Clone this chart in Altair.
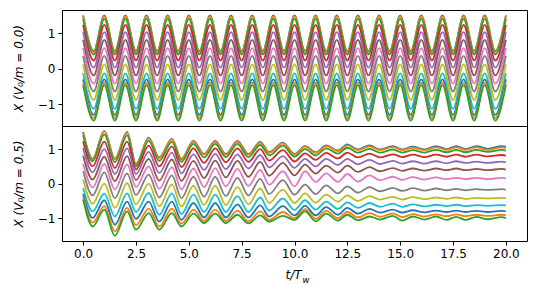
import altair as alt
import pandas as pd

# ---------------- data ----------------
curve_ids = [f"c{i:02d}" for i in range(13)]
tab10 = ["#1f77b4", "#ff7f0e", "#2ca02c", "#d62728", "#9467bd", "#8c564b",
         "#e377c2", "#7f7f7f", "#bcbd22", "#17becf", "#1f77b4", "#ff7f0e", "#2ca02c"]

# top panel (V0/m = 0.0): extrema every half period (peaks at integer t)
t_top = [0.0, 0.5, 1.0, 1.5, 2.0, 2.5, 3.0, 3.5, 4.0, 4.5, 5.0, 5.5, 6.0, 6.5,
         7.0, 7.5, 8.0, 8.5, 9.0, 9.5, 10.0, 10.5, 11.0, 11.5, 12.0, 12.5, 13.0,
         13.5, 14.0, 14.5, 15.0, 15.5, 16.0, 16.5, 17.0, 17.5, 18.0, 18.5, 19.0,
         19.5, 20.0]
top_peaks = [1.50, 1.47, 1.40, 1.23, 1.03, 0.81, 0.58, 0.36, 0.12, -0.13, -0.30, -0.39, -0.46]
top_troughs = [0.50, 0.47, 0.40, 0.23, 0.03, -0.19, -0.42, -0.64, -0.88, -1.13, -1.30, -1.39, -1.46]

# bottom panel (V0/m = 0.5): values of the 13 curves (top to bottom) at the extrema times
t_bot = [0.0, 0.45, 1.0, 1.5, 2.08, 2.5, 3.1, 3.6, 4.2, 4.65, 5.22, 5.72, 6.25, 6.75,
         7.3, 7.82, 8.38, 8.8, 9.45, 10.0, 10.5, 11.0, 11.5, 12.05, 12.5, 13.0, 13.55,
         14.05, 14.65, 15.1, 15.6, 16.15, 16.7, 17.2, 17.65, 18.1, 18.6, 19.15, 19.8, 20.0]
bot_rows = [
    [1.50, 1.47, 1.40, 1.23, 1.03, 0.81, 0.58, 0.36, 0.12, -0.13, -0.30, -0.39, -0.46],
    [0.72, 0.70, 0.65, 0.50, 0.33, 0.12, -0.11, -0.34, -0.58, -0.80, -0.99, -1.13, -1.24],
    [1.53, 1.52, 1.43, 1.22, 1.00, 0.78, 0.57, 0.33, 0.00, -0.29, -0.48, -0.65, -0.75],
    [0.72, 0.70, 0.62, 0.45, 0.28, 0.07, -0.17, -0.42, -0.70, -0.95, -1.19, -1.38, -1.51],
    [1.50, 1.48, 1.40, 1.22, 1.02, 0.80, 0.56, 0.30, 0.02, -0.28, -0.52, -0.70, -0.80],
    [0.57, 0.55, 0.50, 0.41, 0.28, 0.10, -0.10, -0.33, -0.60, -0.82, -1.02, -1.20, -1.33],
    [1.33, 1.31, 1.24, 1.10, 0.92, 0.72, 0.50, 0.26, 0.00, -0.27, -0.52, -0.72, -0.85],
    [0.76, 0.74, 0.66, 0.50, 0.31, 0.09, -0.15, -0.40, -0.66, -0.90, -1.10, -1.24, -1.33],
    [1.30, 1.28, 1.21, 1.08, 0.90, 0.70, 0.48, 0.24, -0.02, -0.28, -0.52, -0.72, -0.85],
    [0.72, 0.70, 0.63, 0.48, 0.30, 0.08, -0.16, -0.42, -0.66, -0.88, -1.05, -1.16, -1.24],
    [1.24, 1.22, 1.15, 1.02, 0.85, 0.66, 0.44, 0.20, -0.06, -0.32, -0.56, -0.75, -0.87],
    [0.86, 0.84, 0.76, 0.60, 0.40, 0.16, -0.10, -0.38, -0.62, -0.82, -0.98, -1.08, -1.14],
    [1.24, 1.22, 1.15, 1.02, 0.86, 0.67, 0.45, 0.20, -0.06, -0.32, -0.56, -0.75, -0.87],
    [0.86, 0.84, 0.77, 0.62, 0.42, 0.18, -0.08, -0.36, -0.62, -0.82, -0.98, -1.08, -1.14],
    [1.24, 1.22, 1.15, 1.02, 0.85, 0.66, 0.43, 0.17, -0.10, -0.36, -0.60, -0.78, -0.90],
    [0.86, 0.84, 0.77, 0.63, 0.44, 0.20, -0.06, -0.34, -0.60, -0.82, -0.98, -1.09, -1.15],
    [1.21, 1.19, 1.12, 1.00, 0.83, 0.63, 0.40, 0.14, -0.14, -0.40, -0.63, -0.80, -0.92],
    [0.91, 0.89, 0.82, 0.67, 0.47, 0.23, -0.03, -0.30, -0.56, -0.78, -0.95, -1.05, -1.10],
    [1.19, 1.17, 1.10, 0.97, 0.80, 0.60, 0.36, 0.10, -0.17, -0.43, -0.65, -0.82, -0.93],
    [0.86, 0.84, 0.78, 0.64, 0.46, 0.24, -0.08, -0.32, -0.56, -0.76, -0.92, -1.00, -1.05],
    [1.09, 1.07, 1.00, 0.88, 0.72, 0.55, 0.36, -0.03, -0.28, -0.48, -0.64, -0.74, -0.80],
    [0.91, 0.89, 0.82, 0.69, 0.50, 0.29, 0.05, -0.30, -0.55, -0.75, -0.92, -1.02, -1.09],
    [1.11, 1.09, 1.02, 0.89, 0.72, 0.52, 0.30, -0.05, -0.32, -0.52, -0.68, -0.79, -0.87],
    [0.96, 0.94, 0.87, 0.73, 0.54, 0.32, 0.05, -0.28, -0.52, -0.73, -0.90, -1.00, -1.07],
    [1.14, 1.11, 1.04, 0.90, 0.72, 0.52, 0.28, -0.08, -0.34, -0.54, -0.70, -0.82, -0.90],
    [0.99, 0.97, 0.90, 0.76, 0.56, 0.34, 0.06, -0.26, -0.50, -0.70, -0.87, -0.98, -1.06],
    [1.11, 1.08, 1.01, 0.87, 0.69, 0.48, 0.24, -0.10, -0.36, -0.56, -0.73, -0.85, -0.95],
    [0.99, 0.97, 0.90, 0.76, 0.57, 0.36, 0.10, -0.22, -0.46, -0.67, -0.84, -0.96, -1.04],
    [1.09, 1.06, 0.99, 0.85, 0.66, 0.45, 0.20, -0.12, -0.38, -0.58, -0.75, -0.86, -0.93],
    [0.99, 0.97, 0.90, 0.77, 0.58, 0.37, 0.11, -0.21, -0.46, -0.67, -0.84, -0.97, -1.07],
    [1.07, 1.04, 0.97, 0.84, 0.65, 0.44, 0.19, -0.13, -0.39, -0.60, -0.77, -0.88, -0.95],
    [0.99, 0.97, 0.90, 0.77, 0.58, 0.38, 0.12, -0.20, -0.45, -0.66, -0.83, -0.95, -1.04],
    [1.09, 1.05, 0.98, 0.84, 0.65, 0.44, 0.18, -0.14, -0.40, -0.61, -0.78, -0.89, -0.95],
    [1.00, 0.98, 0.91, 0.78, 0.59, 0.39, 0.13, -0.19, -0.44, -0.65, -0.82, -0.94, -1.05],
    [1.09, 1.05, 0.98, 0.84, 0.65, 0.44, 0.17, -0.15, -0.40, -0.61, -0.78, -0.89, -0.96],
    [1.00, 0.98, 0.91, 0.78, 0.60, 0.39, 0.13, -0.19, -0.44, -0.65, -0.82, -0.94, -1.05],
    [1.09, 1.05, 0.98, 0.84, 0.64, 0.43, 0.17, -0.16, -0.41, -0.62, -0.79, -0.90, -0.96],
    [1.01, 0.98, 0.92, 0.79, 0.60, 0.39, 0.13, -0.18, -0.43, -0.64, -0.82, -0.93, -1.03],
    [1.09, 1.05, 0.98, 0.83, 0.64, 0.43, 0.17, -0.16, -0.41, -0.62, -0.79, -0.90, -0.97],
    [1.07, 1.03, 0.96, 0.81, 0.62, 0.41, 0.15, -0.17, -0.42, -0.63, -0.80, -0.91, -1.00],
]

x_ticks = [0.0, 2.5, 5.0, 7.5, 10.0, 12.5, 15.0, 17.5, 20.0]
y_ticks = [-1, 0, 1]

# ---------------- tables ----------------
rows = []
for i, cid in enumerate(curve_ids):
    for k, t in enumerate(t_top):
        rows.append({"curve": cid, "t": t, "X": top_peaks[i] if k % 2 == 0 else top_troughs[i]})
df_top = pd.DataFrame(rows)

rows = []
for i, cid in enumerate(curve_ids):
    for k, t in enumerate(t_bot):
        rows.append({"curve": cid, "t": t, "X": bot_rows[k][i]})
df_bot = pd.DataFrame(rows)

FONT = "DejaVu Sans"
W, H_TOP, H_BOT = 465, 116, 115

x_scale = alt.Scale(domain=[-1, 21], nice=False, zero=False)
color = alt.Color("curve:N", scale=alt.Scale(domain=curve_ids, range=tab10), legend=None)


def y_axis(title, h):
    return alt.Axis(values=y_ticks, title=title, titleX=-44, titleY=h / 2,
                    titleAngle=-90, titleAlign="center", titleBaseline="middle",
                    titleFontStyle="italic", format="d")


top = alt.Chart(df_top).mark_line(interpolate="monotone", strokeWidth=1.8).encode(
    x=alt.X("t:Q", scale=x_scale, axis=None),
    y=alt.Y("X:Q", scale=alt.Scale(domain=[-1.61, 1.65], nice=False, zero=False),
            axis=y_axis("X (V₀/m = 0.0)", H_TOP)),
    color=color,
).properties(width=W, height=H_TOP)

bot_lines = alt.Chart(df_bot).mark_line(interpolate="monotone", strokeWidth=1.8).encode(
    x=alt.X("t:Q", scale=x_scale,
            axis=alt.Axis(values=x_ticks, format=".1f", title=None)),
    y=alt.Y("X:Q", scale=alt.Scale(domain=[-1.66, 1.67], nice=False, zero=False),
            axis=y_axis("X (V₀/m = 0.5)", H_BOT)),
    color=color,
)

lbl = pd.DataFrame({"s": ["t/T"]})
lbl_w = pd.DataFrame({"s": ["w"]})
xt1 = alt.Chart(lbl).mark_text(font=FONT, fontSize=12, fontStyle="italic", align="right",
                               baseline="alphabetic", color="black").encode(
    text="s:N", x=alt.value(239.5), y=alt.value(153))
xt2 = alt.Chart(lbl_w).mark_text(font=FONT, fontSize=8.5, fontStyle="italic", align="left",
                                 baseline="alphabetic", color="black").encode(
    text="s:N", x=alt.value(240.5), y=alt.value(157))

bottom = alt.layer(bot_lines, xt1, xt2).properties(width=W, height=H_BOT)

chart = alt.vconcat(top, bottom, spacing=0, bounds="flush").properties(
    padding={"left": 11, "top": 9, "right": 5, "bottom": 5}
).configure_view(stroke="black", strokeWidth=1).configure_axis(
    labelFont=FONT, labelFontSize=12, labelColor="black", titleFont=FONT,
    titleFontSize=12, titleFontWeight="normal", titleColor="black",
    tickColor="black", tickSize=4, tickWidth=1, labelPadding=3,
    domain=False, grid=False
)

chart.save("out.html", embed_options={"renderer": "svg", "actions": False})
